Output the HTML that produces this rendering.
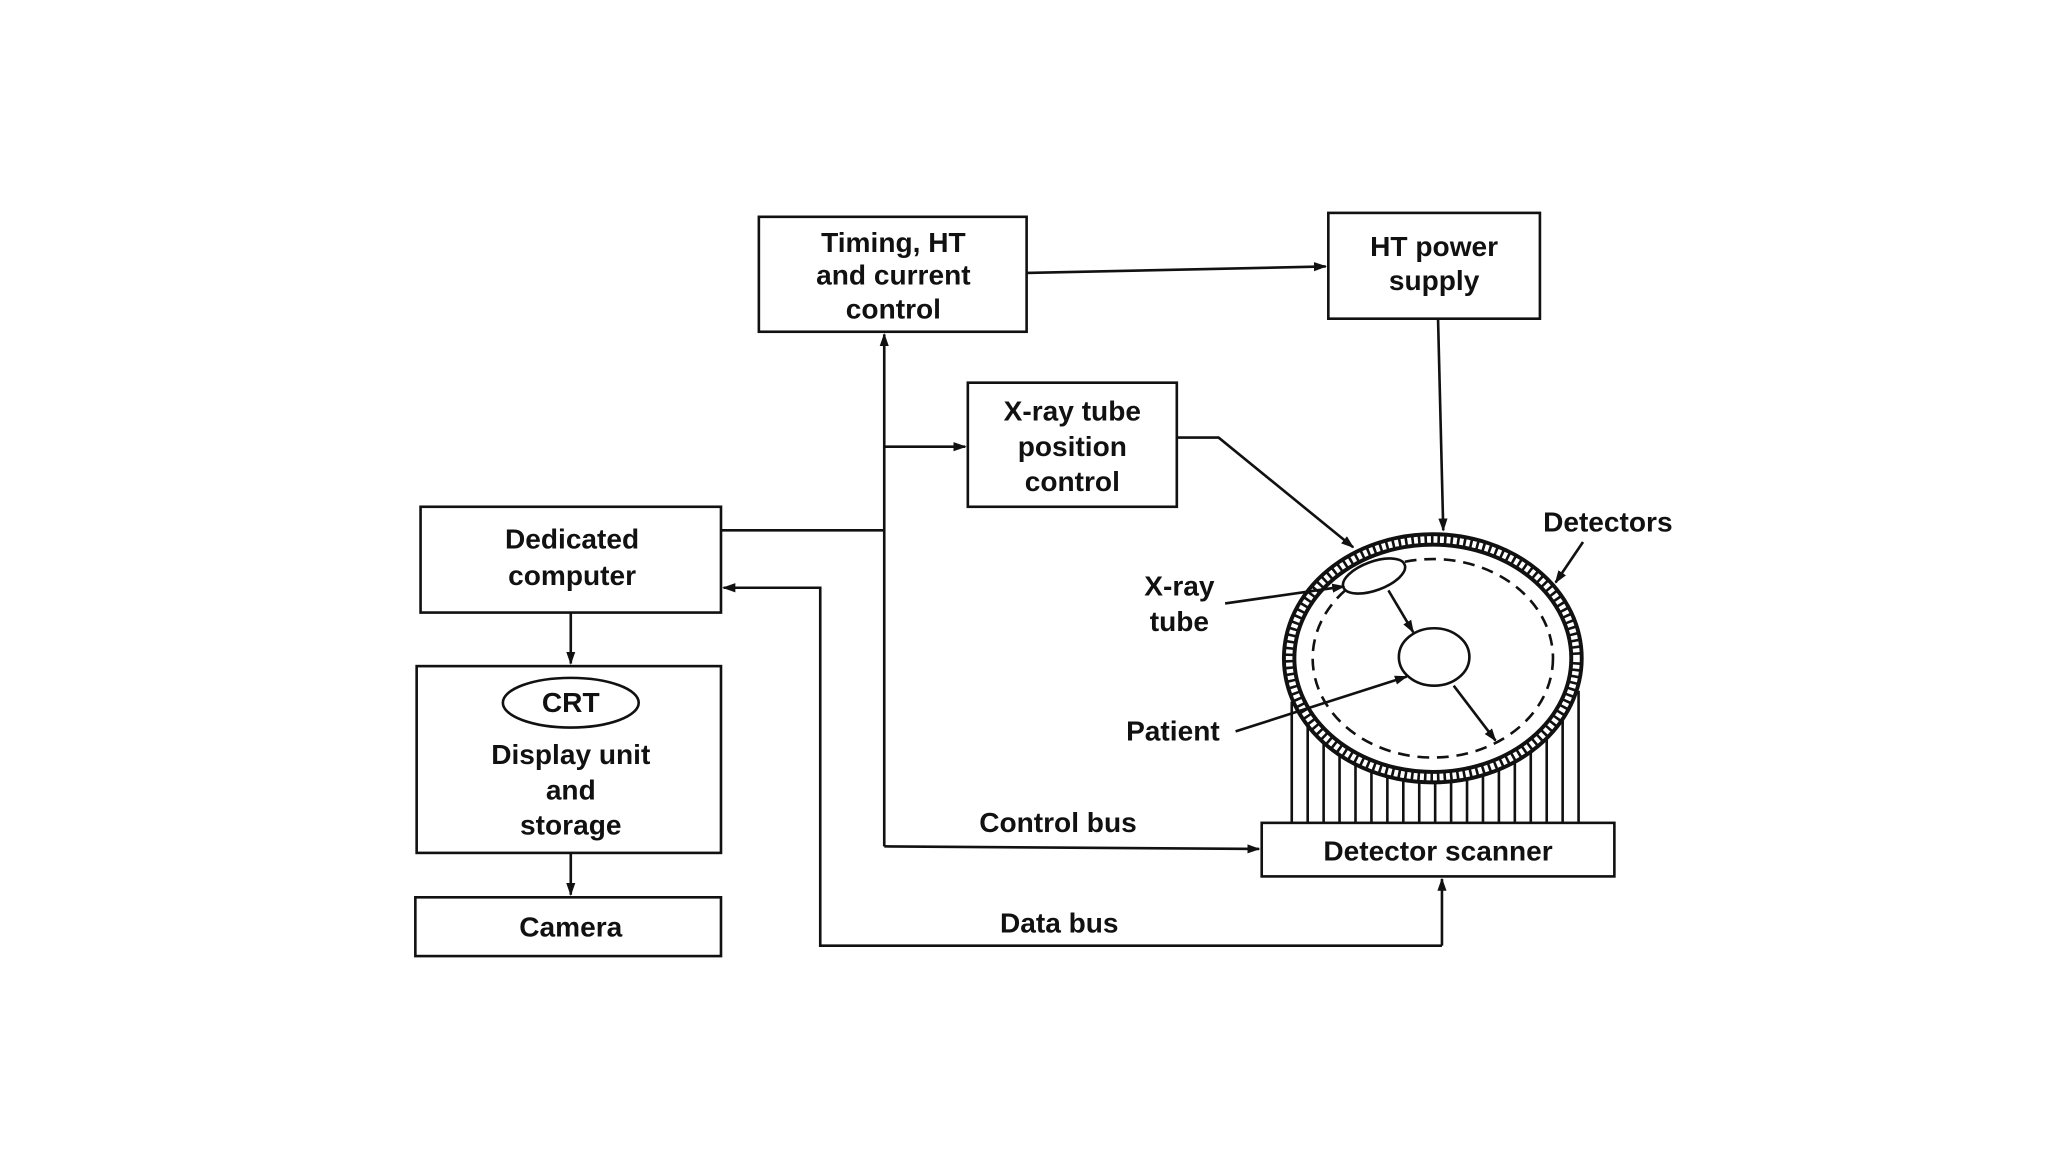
<!DOCTYPE html>
<html><head><meta charset="utf-8"><style>
html,body{margin:0;padding:0;background:#fff;}
svg{display:block;}
text{font-family:"Liberation Sans",Arial,sans-serif;font-weight:bold;font-size:21.5px;fill:#111;text-anchor:middle;}
</style></head><body>
<svg id="s" width="2048" height="1152" viewBox="0 0 1568 882" xmlns="http://www.w3.org/2000/svg">
<defs><marker id="a" markerWidth="10" markerHeight="8" refX="9" refY="4" orient="auto" markerUnits="userSpaceOnUse"><path d="M0,0.5 L10,4 L0,7.5 Z" fill="#111"/></marker></defs>
<g stroke="#111" stroke-width="2" fill="none">
<rect x="581" y="166" width="205" height="88"/>
<rect x="1017" y="163" width="162" height="81"/>
<rect x="741" y="293" width="160" height="95"/>
<rect x="322" y="388" width="230" height="81"/>
<rect x="319" y="510" width="233" height="143"/>
<ellipse cx="437" cy="538" rx="52" ry="19"/>
<rect x="318" y="687" width="234" height="45"/>
<rect x="966" y="630" width="270" height="41"/>
<path d="M786,209 L1015,204" marker-end="url(#a)"/>
<path d="M677,648 L677,256" marker-end="url(#a)"/>
<path d="M552,406 L677,406"/>
<path d="M677,342 L739,342" marker-end="url(#a)"/>
<path d="M677,648 L964,650" marker-end="url(#a)"/>
<path d="M1104,724 L628,724 L628,450 L554,450" marker-end="url(#a)"/>
<path d="M1104,724 L1104,673" marker-end="url(#a)"/>
<path d="M437,469 L437,508" marker-end="url(#a)"/>
<path d="M437,653 L437,685" marker-end="url(#a)"/>
<path d="M1101,244 L1105,406" marker-end="url(#a)"/>
<path d="M901,335 L933,335 L1036,419" marker-end="url(#a)"/>
<g id="vl"></g>
<ellipse cx="1097" cy="504" rx="110" ry="91" stroke-width="11" fill="#fff"/>
<ellipse cx="1097" cy="504" rx="110" ry="91" stroke="#fff" stroke-width="5" stroke-dasharray="3 2"/>
<ellipse cx="1097" cy="504" rx="92" ry="76" stroke-dasharray="9 6"/>
<ellipse cx="1052" cy="441" rx="25" ry="11" transform="rotate(-20 1052 441)" fill="#fff"/>
<ellipse cx="1098" cy="503" rx="27" ry="22"/>
<path d="M1063,452 L1082,484" marker-end="url(#a)"/>
<path d="M1113,525 L1145,567" marker-end="url(#a)"/>
<path d="M938,462 L1029,449" marker-end="url(#a)"/>
<path d="M946,560 L1077,518" marker-end="url(#a)"/>
<path d="M1212,415 L1191,446" marker-end="url(#a)"/>
</g>
<text x="684" y="193">Timing, HT</text>
<text x="684" y="218">and current</text>
<text x="684" y="244">control</text>
<text x="1098" y="196">HT power</text>
<text x="1098" y="222">supply</text>
<text x="821" y="322">X-ray tube</text>
<text x="821" y="349">position</text>
<text x="821" y="376">control</text>
<text x="438" y="420">Dedicated</text>
<text x="438" y="448">computer</text>
<text x="437" y="545">CRT</text>
<text x="437" y="585">Display unit</text>
<text x="437" y="612">and</text>
<text x="437" y="639">storage</text>
<text x="437" y="717">Camera</text>
<text x="1101" y="659">Detector scanner</text>
<text x="810" y="637">Control bus</text>
<text x="811" y="714">Data bus</text>
<text x="903" y="456">X-ray</text>
<text x="903" y="483">tube</text>
<text x="898" y="567">Patient</text>
<text x="1231" y="407">Detectors</text>
</svg>
<script>
var g=document.getElementById('vl'),h='';
for(var x=989;x<=1210;x+=12.2){var d=(x-1097)/116;if(Math.abs(d)>1)continue;var y=504+91*Math.sqrt(1-d*d);h+='<line x1="'+x+'" y1="'+y+'" x2="'+x+'" y2="630"/>';}
g.innerHTML=h;
</script>
</body></html>
